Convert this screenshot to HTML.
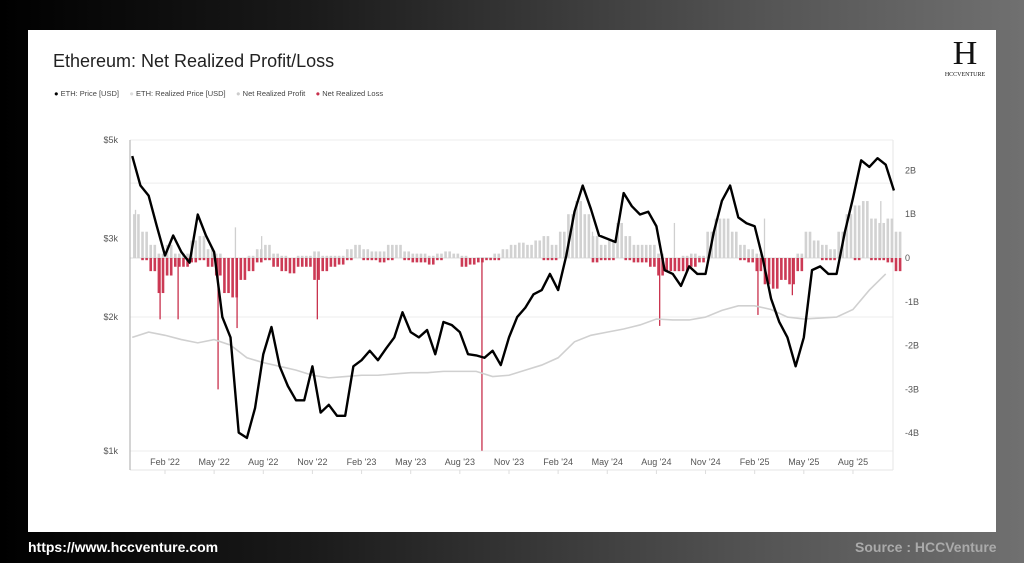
<!DOCTYPE html>
<html><head><meta charset="utf-8"><style>
body{margin:0;width:1024px;height:563px;overflow:hidden;background:linear-gradient(90deg,#000 0%,#1a1a1a 30%,#555 75%,#707070 100%);font-family:"Liberation Sans",sans-serif;position:relative}
#card{position:absolute;left:28px;top:30px;width:968px;height:502px;background:#fff}
.t{position:absolute;white-space:nowrap}
</style></head><body>
<div id="card"></div>
<div class="t" style="left:53px;top:51px;font-size:18px;color:#222">Ethereum: Net Realized Profit/Loss</div>
<div class="t" style="left:54px;top:89px;font-size:7.5px;color:#444">
<span><span style="color:#000">●</span> ETH: Price [USD]</span>&nbsp;&nbsp;&nbsp;&nbsp;
<span><span style="color:#ddd">●</span> ETH: Realized Price [USD]</span>&nbsp;&nbsp;&nbsp;&nbsp;
<span><span style="color:#ccc">●</span> Net Realized Profit</span>&nbsp;&nbsp;&nbsp;&nbsp;
<span><span style="color:#c8304c">●</span> Net Realized Loss</span></div>
<div class="t" style="left:940px;top:36px;width:50px;height:44px;text-align:center">
<div style="font-family:'Liberation Serif',serif;font-size:34px;line-height:36px;color:#111">H</div>
<div style="font-family:'Liberation Serif',serif;font-size:6px;color:#111">HCCVENTURE</div></div>
<div class="t" style="left:28px;top:539px;font-size:14px;font-weight:bold;color:#fff">https://www.hccventure.com</div>
<div class="t" style="left:855px;top:539px;font-size:14px;font-weight:bold;color:#aaa">Source : HCCVenture</div>
<svg id="chart" width="1024" height="563" style="position:absolute;left:0;top:0"></svg>
<script>
const xLabels=["Feb '22","May '22","Aug '22","Nov '22","Feb '23","May '23","Aug '23","Nov '23","Feb '24","May '24","Aug '24","Nov '24","Feb '25","May '25","Aug '25"];
const priceTicks=[1000,2000,3000,5000];
const priceTickLabels=["$1k","$2k","$3k","$5k"];
const pnlTicks=[2,1,0,-1,-2,-3,-4];
const pnlTickLabels=["2B","1B","0","-1B","-2B","-3B","-4B"];
// half-monthly from Dec 2021
const price=[4600,3950,3750,3200,2750,3050,2800,2650,3400,3050,2800,2000,1800,1100,1070,1250,1650,1900,1550,1400,1300,1300,1550,1220,1270,1200,
1200,1550,1600,1680,1600,1700,1800,2050,1850,1800,1870,1650,1950,1920,1850,1650,1640,1620,1680,1560,1800,2000,2100,2250,
2300,2500,2300,2750,3450,3950,3500,3050,3000,2950,3800,3550,3400,3450,3200,2550,2500,2350,2600,2500,2500,3100,3650,3950,
3350,3250,3200,2700,2200,1950,1800,1550,1800,2550,2600,2500,2500,3100,3700,4500,4350,4550,4400,3850];
// monthly from Dec 2021 (k USD)
const realized=[1.80,1.85,1.82,1.78,1.75,1.78,1.73,1.62,1.58,1.55,1.52,1.48,1.46,1.47,1.48,1.48,1.49,1.50,1.50,1.51,1.51,1.51,1.47,1.48,1.52,1.56,1.62,1.76,1.82,1.85,1.88,1.92,1.98,1.97,1.97,2.0,2.07,2.12,2.12,2.08,2.0,1.98,1.99,2.0,2.08,2.3,2.5];
const profit=[1.0,0.6,0.3,0.1,0.3,0.1,0.1,0.4,0.5,0.2,0.1,0,0,0,0.05,0.2,0.3,0.1,0.05,0,0.05,0.05,0.15,0.05,0.05,0.05,
0.2,0.3,0.2,0.15,0.15,0.3,0.3,0.15,0.1,0.1,0.05,0.1,0.15,0.1,0.05,0,0.02,0.02,0.1,0.2,0.3,0.35,0.3,0.4,
0.5,0.3,0.6,1.0,1.3,1.0,0.5,0.3,0.4,0.8,0.5,0.3,0.3,0.3,0.1,0,0,0.05,0.1,0.05,0.6,0.9,0.9,0.6,
0.3,0.2,0.1,0,0,0,0,0.1,0.6,0.4,0.3,0.2,0.6,1.0,1.2,1.3,0.9,0.8,0.9,0.6];
const loss=[0,0.05,0.3,0.8,0.4,0.2,0.2,0.1,0.05,0.2,0.4,0.8,0.9,0.5,0.3,0.1,0.05,0.2,0.3,0.35,0.2,0.2,0.5,0.3,0.2,0.15,
0.05,0,0.05,0.05,0.1,0.05,0,0.05,0.1,0.1,0.15,0.05,0,0,0.2,0.15,0.1,0.05,0.05,0,0,0,0,0,
0.05,0.05,0,0,0,0,0.1,0.05,0.05,0,0.05,0.1,0.1,0.2,0.4,0.3,0.3,0.3,0.2,0.1,0,0,0,0,
0.05,0.1,0.3,0.6,0.7,0.5,0.6,0.3,0,0,0.05,0.05,0,0,0.05,0,0.05,0.05,0.1,0.3];
const spikeMonths=[-0.3,0.8,3.24,4.4,9.3,19.35,30.2,36.2,38.3,-1.8,4.3,5.9,26.1,31.1,36.6,43.7];
const spikeValues=[-1.4,-1.4,-3.0,-1.6,-1.4,-4.4,-1.55,-1.3,-0.85,1.1,0.7,0.5,0.6,0.8,0.9,1.3];

const svg=document.getElementById('chart');const NS='http://www.w3.org/2000/svg';
const X0=130,X1=893,Y0=140,Y1=470;
const xm=m=>165+m*16.38;
const yp=p=>451-Math.log10(p/1000)/Math.log10(5)*311;
const yb=b=>258-b*43.8;
function el(t,a,txt){const e=document.createElementNS(NS,t);for(const k in a)e.setAttribute(k,a[k]);if(txt!==undefined)e.textContent=txt;svg.appendChild(e);return e;}
[1000,2000,4000,5000].forEach(p=>{const g=el('line',{x1:X0,x2:X1,y1:yp(p),y2:yp(p),stroke:'#eee','stroke-width':1});

});
const b1=el('line',{x1:X1,x2:X1,y1:Y0,y2:Y1,stroke:'#e6e6e6'});


const b2=el('line',{x1:X0,x2:X1,y1:Y1,y2:Y1,stroke:'#e6e6e6'});


const zl=el('line',{x1:X0,x2:X1,y1:yb(0),y2:yb(0),stroke:'#ddd'});


// bars: thin bars, two per half-month slot
const bw=2.6;
profit.forEach((v,i)=>{if(v<=0)return;const m=i/2-2;[0,4.1].forEach(o=>{const r=el('rect',{x:xm(m)+o+0.8,y:yb(v),width:bw,height:yb(0)-yb(v),fill:'#d2d2d2'});

});});
loss.forEach((v,i)=>{if(v<=0)return;const m=i/2-2;[0,4.1].forEach(o=>{const r=el('rect',{x:xm(m)+o+0.8,y:yb(0),width:bw,height:yb(-v)-yb(0),fill:'#cc3a55'});

});});
spikeMonths.forEach((m,i)=>{const v=spikeValues[i];const l=el('line',{x1:xm(m),x2:xm(m),y1:yb(0),y2:yb(v),stroke:v<0?'#c8304c':'#cfcfcf','stroke-width':1.3});

});
const rp=el('polyline',{points:realized.map((v,k)=>xm(k-2)+','+yp(v*1000)).join(' '),fill:'none',stroke:'#d0d0d0','stroke-width':1.6});


const pl=el('polyline',{points:price.map((v,i)=>xm(i/2-2)+','+yp(v)).join(' '),fill:'none',stroke:'#000','stroke-width':2.4,'stroke-linejoin':'round'});


const la=el('line',{x1:X0,x2:X0,y1:Y0,y2:Y1,stroke:'#aaa'});


priceTicks.forEach((p,i)=>{const t=el('text',{x:118,y:yp(p)+3,'text-anchor':'end','font-size':9,fill:'#555','font-family':'Liberation Sans'},priceTickLabels[i]);

});
pnlTicks.forEach((b,i)=>{const t=el('text',{x:905,y:yb(b)+3,'font-size':9,fill:'#555','font-family':'Liberation Sans'},pnlTickLabels[i]);

});
xLabels.forEach((s,i)=>{const x=xm(i*3);const t=el('text',{x:x,y:465,'text-anchor':'middle','font-size':9,fill:'#555','font-family':'Liberation Sans'},s);


const tk=el('line',{x1:x,x2:x,y1:470,y2:474,stroke:'#ddd'});

});
</script>
</body></html>
